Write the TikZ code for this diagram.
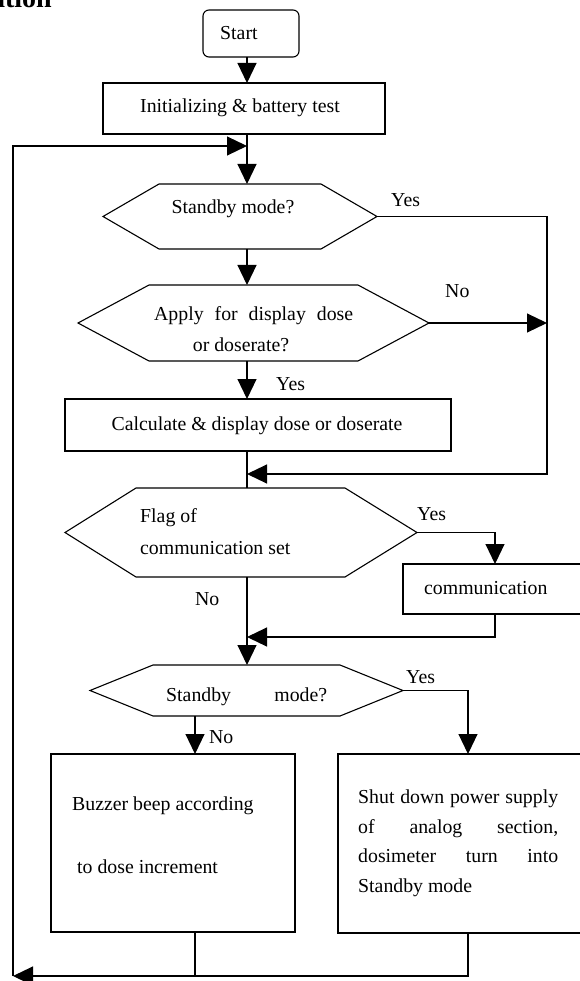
\documentclass[tikz,border=0pt]{standalone}
\usepackage{fontspec}
\setmainfont{Liberation Serif}
\usetikzlibrary{arrows.meta,calc}
\begin{document}
\begin{tikzpicture}[x=1pt,y=-1pt,
  line/.style={line width=1.1pt},
  arr/.style={line width=1.1pt,-{Triangle[length=20pt,width=19pt]}},
  box/.style={draw,line width=1.1pt,anchor=north west,inner sep=0pt,outer sep=0pt},
  hexbox/.style={anchor=north west,inner sep=0pt,outer sep=0pt},
  txt/.style={font=\fontsize{19.8}{23.8}\selectfont,inner sep=0pt}]
\useasboundingbox (0,0) rectangle (579,981);
\node[anchor=base east,inner sep=0pt,font=\fontsize{28}{32}\selectfont\bfseries] (head) at (52,8) {ation};
% coordinates for axes
\coordinate (ax) at (247,0);
\coordinate (rx) at (547,0);
\coordinate (cx) at (495,0);
\coordinate (bx) at (195,0);
\coordinate (sx) at (468,0);
\coordinate (m0) at (247,146);
\coordinate (m1) at (247,474);
\coordinate (m2) at (247,637);
\coordinate (lx) at (13,976);
% boxes
\node[box,rounded corners=6pt,minimum width=96pt,minimum height=47pt] (start) at (203,10) {};
\node[box,minimum width=282pt,minimum height=51pt] (init) at (103,83) {};
\node[box,minimum width=386pt,minimum height=52pt] (calc) at (65,399) {};
\node[box,minimum width=180pt,minimum height=50pt] (comm) at (403,564) {};
\node[box,minimum width=244pt,minimum height=178pt] (buzz) at (51,754) {};
\node[box,minimum width=245pt,minimum height=179pt] (shut) at (338,754) {};
% hexagons
\node[hexbox,minimum width=162pt,minimum height=65pt] (s1) at (159,184) {};
\draw[line] (s1.north west) -- (s1.north east) -- ([xshift=56pt]s1.east) coordinate (s1r) -- (s1.south east) -- (s1.south west) -- ([xshift=-56pt]s1.west) -- cycle;
\node[hexbox,minimum width=209pt,minimum height=76pt] (ap) at (149,285) {};
\draw[line] (ap.north west) -- (ap.north east) -- ([xshift=71pt]ap.east) coordinate (apr) -- (ap.south east) -- (ap.south west) -- ([xshift=-71pt]ap.west) -- cycle;
\node[hexbox,minimum width=209pt,minimum height=89pt] (fl) at (136,488) {};
\draw[line] (fl.north west) -- (fl.north east) -- ([xshift=72pt]fl.east) coordinate (flr) -- (fl.south east) -- (fl.south west) -- ([xshift=-71pt]fl.west) -- cycle;
\node[hexbox,minimum width=187pt,minimum height=51pt] (s2) at (153,665) {};
\draw[line] (s2.north west) -- (s2.north east) -- ([xshift=63pt]s2.east) coordinate (s2r) -- (s2.south east) -- (s2.south west) -- ([xshift=-63pt]s2.west) -- cycle;
% texts
\node[txt,anchor=base west] (tstart) at (220,40) {Start};
\node[txt,anchor=base] (tinit) at (240,113) {Initializing \& battery test};
\node[txt,anchor=base] (ts1) at (233,214) {Standby mode?};
\node[txt,anchor=base west] (y1) at (391,207) {Yes};
\node[txt,anchor=base west] (tap1) at (154,320) {\makebox[199pt][s]{Apply for display dose}};
\node[txt,anchor=base] (tap2) at (241,351) {or doserate?};
\node[txt,anchor=base west] (n1) at (445,297) {No};
\node[txt,anchor=base west] (y2) at (276,390) {Yes};
\node[txt,anchor=base] (tcalc) at (257,430) {Calculate \& display dose or doserate};
\node[txt,anchor=base west] (tfl1) at (140,522) {Flag of};
\node[txt,anchor=base west] (tfl2) at (140,554) {communication set};
\node[txt,anchor=base west] (y3) at (417,520) {Yes};
\node[txt,anchor=base west] (tcomm) at (424,594) {communication};
\node[txt,anchor=base west] (n2) at (195,605) {No};
\node[txt,anchor=base west] (ts2) at (166,701) {\makebox[161pt][s]{Standby mode?}};
\node[txt,anchor=base west] (y4) at (406,683) {Yes};
\node[txt,anchor=base west] (n3) at (209,743) {No};
\node[txt,anchor=base west] (tb1) at (72,810) {Buzzer beep according};
\node[txt,anchor=base west] (tb2) at (77,873) {to dose increment};
\node[txt,anchor=base west] (tsh1) at (358,803) {\makebox[200pt][s]{Shut down power supply}};
\node[txt,anchor=base west] (tsh2) at (358,833) {\makebox[200pt][s]{of analog section,}};
\node[txt,anchor=base west] (tsh3) at (358,862) {\makebox[200pt][s]{dosimeter turn into}};
\node[txt,anchor=base west] (tsh4) at (358,892) {Standby mode};
% connectors
\draw[arr] (start.south -| ax) -- (init.north -| ax);
\draw[arr] (init.south -| ax) -- (s1.north -| ax);
\draw[arr] (s1.south -| ax) -- (ap.north -| ax);
\draw[arr] (ap.south -| ax) -- (calc.north -| ax);
\draw[line] (calc.south -| ax) -- (fl.north -| ax);
\draw[arr] (s1r) -| (rx |- m1) -- (m1);
\draw[arr] (apr) -- (apr -| rx);
\draw[arr] (flr) -| (cx |- comm.north);
\draw[arr] (comm.south -| cx) |- (m2);
\draw[arr] (fl.south -| ax) -- (s2.north -| ax);
\draw[arr] (s2r) -| (sx |- shut.north);
\draw[arr] (s2.south -| bx) -- (buzz.north -| bx);
\draw[line] (buzz.south -| bx) -- (bx |- lx);
\draw[arr] (shut.south -| sx) |- (lx);
\draw[arr] (lx) -- (lx |- m0) -- (m0);
\end{tikzpicture}
\end{document}
